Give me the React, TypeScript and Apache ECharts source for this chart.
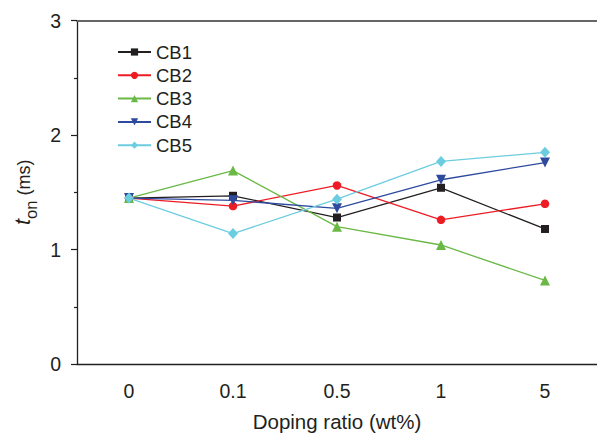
import React, { useEffect, useRef } from "react";
import * as echarts from "echarts";

const categories = ["0", "0.1", "0.5", "1", "5"];
const cb1 = [1.45, 1.47, 1.28, 1.54, 1.18];
const cb2 = [1.45, 1.38, 1.56, 1.26, 1.4];
const cb3 = [1.45, 1.69, 1.2, 1.04, 0.73];
const cb4 = [1.45, 1.43, 1.36, 1.61, 1.76];
const cb5 = [1.45, 1.14, 1.44, 1.77, 1.85];
const seriesNames = ["CB1", "CB2", "CB3", "CB4", "CB5"];
const colors = ["#231f20", "#ed1c24", "#6ab845", "#2e4a9e", "#6ccde0"];

export default function App() {
  const ref = useRef<HTMLDivElement>(null);
  useEffect(() => {
    if (!ref.current) return;
    const chart = echarts.init(ref.current, null, { renderer: "svg" });
    const font = "Liberation Sans, Arial, Helvetica, sans-serif";
    const mk = (
      name: string,
      data: number[],
      color: string,
      symbol: string,
      size: number | number[],
      rotate = 0
    ) => ({
      name,
      type: "line",
      data,
      symbol,
      symbolSize: size,
      symbolRotate: rotate,
      lineStyle: { color, width: 1.3 },
      itemStyle: { color },
      z: 2,
    });
    chart.setOption({
      animation: false,
      backgroundColor: "#ffffff",
      textStyle: { fontFamily: font },
      grid: { left: 77, right: -7.5, top: 20.7, bottom: 72, containLabel: false },
      legend: {
        orient: "vertical",
        left: 117,
        top: 42,
        padding: 0,
        itemWidth: 33,
        itemHeight: 9,
        itemGap: 3.3,
        data: seriesNames,
        textStyle: { fontSize: 18.5, color: "#231f20", fontFamily: font, lineHeight: 20, padding: [0, 0, 0, 0] },
      },
      xAxis: [
        {
          type: "category",
          data: categories,
          boundaryGap: true,
          position: "bottom",
          name: "Doping ratio (wt%)",
          nameLocation: "middle",
          nameGap: 47,
          nameTextStyle: { fontSize: 20.5, color: "#231f20", fontFamily: font },
          axisLine: { lineStyle: { color: "#231f20", width: 1.3 } },
          axisTick: { alignWithLabel: true, length: 5, lineStyle: { color: "#231f20", width: 1.2 } },
          axisLabel: { fontSize: 19.5, color: "#231f20", margin: 17, fontFamily: font },
          splitLine: { show: false },
        },
        {
          type: "category",
          data: categories,
          boundaryGap: true,
          position: "top",
          axisLine: { lineStyle: { color: "#666666", width: 2 } },
          axisTick: { alignWithLabel: true, inside: true, length: 3, lineStyle: { color: "#333333", width: 1.2 } },
          axisLabel: { show: false },
          splitLine: { show: false },
        },
      ],
      yAxis: {
        type: "value",
        min: 0,
        max: 3,
        interval: 1,
        name: "{t|t}{sub|on}{ms| (ms)}",
        nameLocation: "middle",
        nameRotate: 90,
        nameGap: 43,
        nameTextStyle: {
          color: "#231f20",
          fontFamily: font,
          rich: {
            t: { fontSize: 22, fontStyle: "italic", fontFamily: font, color: "#231f20", verticalAlign: "bottom" },
            sub: { fontSize: 16.5, fontFamily: font, color: "#231f20", verticalAlign: "bottom", padding: [0, 0, -6, 0] },
            ms: { fontSize: 18, fontFamily: font, color: "#231f20", verticalAlign: "bottom" },
          },
        },
        axisLine: { show: true, lineStyle: { color: "#231f20", width: 1.3 } },
        axisTick: { show: true, length: 6, lineStyle: { color: "#231f20", width: 1.2 } },
        minorTick: { show: true, splitNumber: 2, length: 3, lineStyle: { color: "#231f20", width: 1.2 } },
        axisLabel: { fontSize: 19.5, color: "#231f20", margin: 16, fontFamily: font },
        splitLine: { show: false },
      },
      series: [
        mk(seriesNames[0], cb1, colors[0], "rect", 8),
        mk(seriesNames[1], cb2, colors[1], "circle", 8.5),
        mk(seriesNames[2], cb3, colors[2], "triangle", 10),
        mk(seriesNames[3], cb4, colors[3], "triangle", 10, 180),
        mk(seriesNames[4], cb5, colors[4], "diamond", [10, 11]),
      ],
    });
    return () => chart.dispose();
  }, []);
  return <div ref={ref} style={{ width: 597, height: 437, position: "absolute", left: 0, top: 0 }} />;
}
